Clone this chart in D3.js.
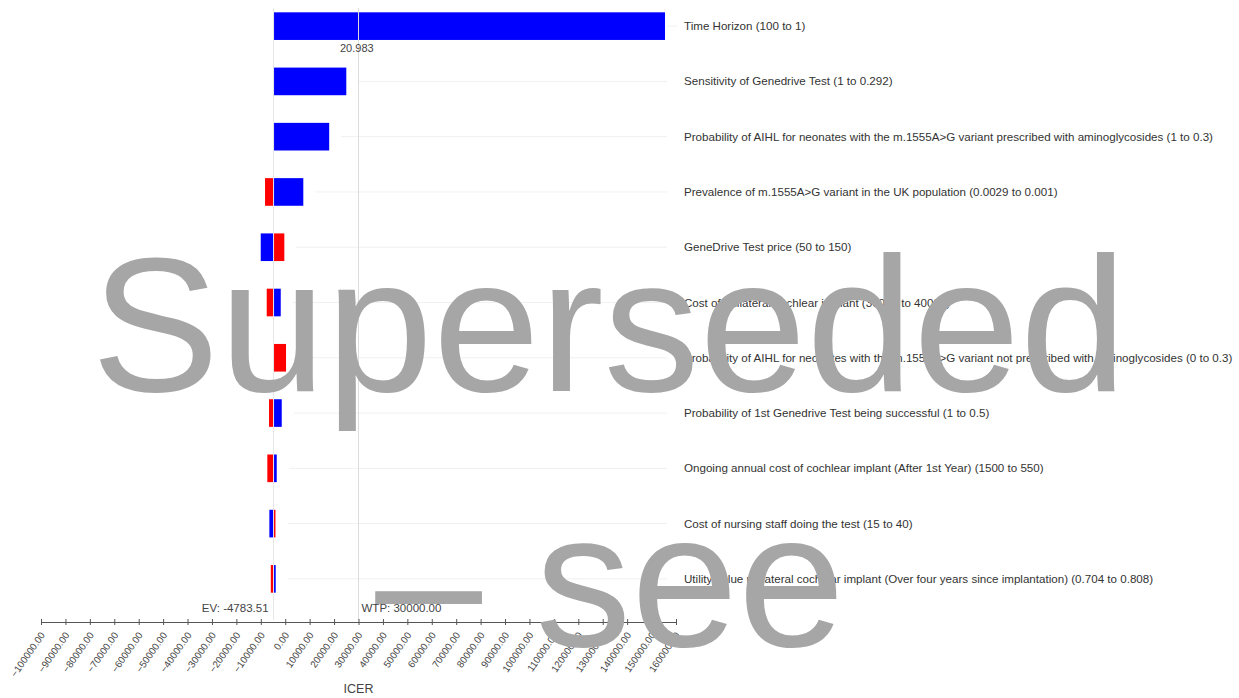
<!DOCTYPE html>
<html>
<head>
<meta charset="utf-8">
<script src="https://cdn.jsdelivr.net/npm/d3@7"></script>
<style>
  html, body { margin: 0; padding: 0; background: #fff; }
  .tornado { width: 1239px; height: 698px; }
</style>
</head>
<body>
<div class="tornado"></div>
<script>
// tornado data
const ev = -4783.51;
const wtp = 30000;

const parameters = [
  "Time Horizon (100 to 1)",
  "Sensitivity of Genedrive Test (1 to 0.292)",
  "Probability of AIHL for neonates with the m.1555A>G variant prescribed with aminoglycosides (1 to 0.3)",
  "Prevalence of m.1555A>G variant in the UK population (0.0029 to 0.001)",
  "GeneDrive Test price (50 to 150)",
  "Cost of unilateral cochlear implant (30000 to 40000)",
  "Probability of AIHL for neonates with the m.1555A>G variant not prescribed with aminoglycosides (0 to 0.3)",
  "Probability of 1st Genedrive Test being successful (1 to 0.5)",
  "Ongoing annual cost of cochlear implant (After 1st Year) (1500 to 550)",
  "Cost of nursing staff doing the test (15 to 40)",
  "Utility value unilateral cochlear implant (Over four years since implantation) (0.704 to 0.808)"
];

// ICER at each end of the range
const redValues  = [ev, ev, ev, -8270, -370, -7580, 330, -6630, -7330, -4000, -5900];
const blueValues = [155500, 25000, 18000, 7400, -10030, -1840, ev, -1430, -3480, -6500, -3900];

const tickValues = d3.range(-100000, 160001, 10000);

function drawTornado(container_class) {
  const width = 1239, height = 698;
  const plot = {left: 41, right: 676, top: -1.5, bottom: 606.5};

  const svg = d3.select(container_class)
    .append("svg")
    .attr("width", width)
    .attr("height", height)
    .style("font-family", "'Liberation Sans', Arial, sans-serif");

  const x = d3.scaleLinear()
    .domain([-100000, 160000])
    .range([plot.left, plot.right]);

  const y = d3.scaleBand()
    .domain(parameters)
    .range([plot.top, plot.bottom])
    .paddingInner(0.5)
    .paddingOuter(0.25);

  const rows = parameters.map((p, i) => ({name: p, red: redValues[i], blue: blueValues[i]}));

  // faint guide lines to the labels
  svg.append("g").selectAll("line")
    .data(rows)
    .join("line")
      .attr("x1", d => Math.max(x(d.red), x(d.blue), x(ev)) + 12)
      .attr("x2", 667)
      .attr("y1", d => y(d.name) + y.bandwidth() / 2)
      .attr("y2", d => y(d.name) + y.bandwidth() / 2)
      .attr("stroke", "#f0f0f0")
      .attr("stroke-width", 1);

  const bars = svg.append("g");

  bars.selectAll("rect.red")
    .data(rows)
    .join("rect")
      .attr("class", "red")
      .attr("x", d => Math.min(x(d.red), x(ev)))
      .attr("width", d => Math.abs(x(d.red) - x(ev)))
      .attr("y", d => y(d.name))
      .attr("height", y.bandwidth())
      .attr("fill", "#ff0000");

  bars.selectAll("rect.blue")
    .data(rows)
    .join("rect")
      .attr("class", "blue")
      .attr("x", d => Math.min(x(d.blue), x(ev)))
      .attr("width", d => Math.abs(x(d.blue) - x(ev)))
      .attr("y", d => y(d.name))
      .attr("height", y.bandwidth())
      .attr("fill", "#0000ff");

  // EV and WTP reference lines
  svg.append("line")
    .attr("x1", x(ev)).attr("x2", x(ev))
    .attr("y1", 8).attr("y2", 620)
    .attr("stroke", "#e6e6e6");

  svg.append("line")
    .attr("x1", x(wtp)).attr("x2", x(wtp))
    .attr("y1", 8).attr("y2", 620)
    .attr("stroke", "#dcdcdc");

  svg.append("text")
    .attr("x", 340).attr("y", 52)
    .attr("font-size", 11).attr("fill", "#444")
    .text("20.983");

  svg.append("text")
    .attr("x", x(ev) - 5).attr("y", 612)
    .attr("text-anchor", "end")
    .attr("font-size", 11.5).attr("fill", "#444")
    .text("EV: " + ev.toFixed(2));

  svg.append("text")
    .attr("x", x(wtp) + 3).attr("y", 612)
    .attr("font-size", 11.5).attr("fill", "#444")
    .text("WTP: " + wtp.toFixed(2));

  // parameter labels
  svg.append("g").selectAll("text")
    .data(rows)
    .join("text")
      .attr("x", 684)
      .attr("y", d => y(d.name) + y.bandwidth() / 2 + 4)
      .attr("font-size", 11.6)
      .attr("fill", "#333")
      .text(d => d.name);

  // x axis
  const axis = svg.append("g")
    .attr("transform", "translate(0, 622)")
    .call(d3.axisBottom(x).tickValues(tickValues).tickSize(3).tickSizeOuter(0).tickFormat(d3.format(".2f")));

  axis.select(".domain").attr("stroke", "#555");
  axis.selectAll(".tick line")
    .attr("y1", -3).attr("y2", 3)
    .attr("stroke", "#555");
  axis.selectAll(".tick text")
    .attr("font-size", 9.8)
    .attr("font-family", "'Liberation Sans', Arial, sans-serif")
    .attr("fill", "#444")
    .attr("text-anchor", "end")
    .attr("y", 0).attr("dy", 0)
    .attr("transform", "translate(4, 13) rotate(-55)");

  svg.append("text")
    .attr("x", (plot.left + plot.right) / 2).attr("y", 693)
    .attr("text-anchor", "middle")
    .attr("font-size", 12.5).attr("fill", "#444")
    .text("ICER");

  // watermark over everything
  const mark = svg.append("g")
    .attr("fill", "#a6a6a6")
    .attr("font-size", 192)
    .attr("text-anchor", "middle");

  mark.append("text").attr("x", 609).attr("y", 391).text("Superseded");
  mark.append("text").attr("x", 610).attr("y", 646).text("\u2013 see");
}

drawTornado(".tornado");
</script>
</body>
</html>
